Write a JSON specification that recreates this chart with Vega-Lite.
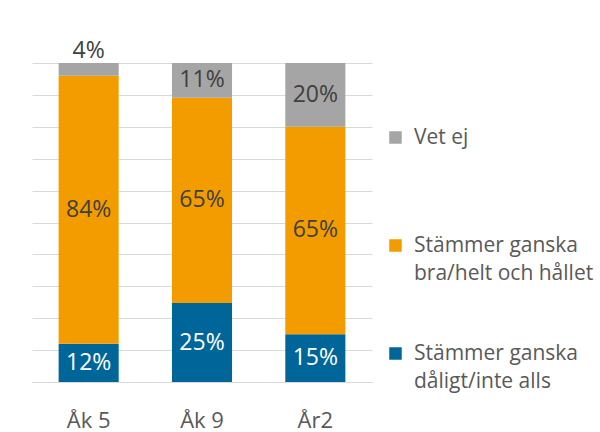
{
  "$schema": "https://vega.github.io/schema/vega-lite/v6.json",
  "width": 340,
  "height": 319,
  "autosize": "none",
  "padding": {"left": 32, "top": 63, "right": 228, "bottom": 50},
  "background": "white",
  "data": {
    "values": [
      {"grupp": "Åk 5", "svar": "Stämmer ganska dåligt/inte alls", "andel": 12, "ordning": 1},
      {"grupp": "Åk 5", "svar": "Stämmer ganska bra/helt och hållet", "andel": 84, "ordning": 2},
      {"grupp": "Åk 5", "svar": "Vet ej", "andel": 4, "ordning": 3},
      {"grupp": "Åk 9", "svar": "Stämmer ganska dåligt/inte alls", "andel": 25, "ordning": 1},
      {"grupp": "Åk 9", "svar": "Stämmer ganska bra/helt och hållet", "andel": 65, "ordning": 2},
      {"grupp": "Åk 9", "svar": "Vet ej", "andel": 11, "ordning": 3},
      {"grupp": "År2", "svar": "Stämmer ganska dåligt/inte alls", "andel": 15, "ordning": 1},
      {"grupp": "År2", "svar": "Stämmer ganska bra/helt och hållet", "andel": 65, "ordning": 2},
      {"grupp": "År2", "svar": "Vet ej", "andel": 20, "ordning": 3}
    ]
  },
  "transform": [
    {"stack": "andel", "groupby": ["grupp"], "sort": [{"field": "ordning"}], "as": ["y0", "y1"], "offset": "normalize"},
    {"calculate": "(datum.y0 + datum.y1) / 2", "as": "ymid"},
    {"calculate": "datum.andel + '%'", "as": "etikett"}
  ],
  "encoding": {
    "x": {
      "field": "grupp",
      "type": "nominal",
      "sort": ["Åk 5", "Åk 9", "År2"],
      "scale": {"paddingInner": 0.47, "paddingOuter": 0.235},
      "axis": {
        "title": null,
        "labelAngle": 0,
        "ticks": false,
        "domain": true,
        "domainColor": "#d9d9d9",
        "labelFont": "Open Sans",
        "labelFontSize": 22,
        "labelColor": "#595959",
        "labelPadding": 28
      }
    }
  },
  "layer": [
    {
      "mark": {"type": "bar"},
      "encoding": {
        "y": {
          "field": "y0",
          "type": "quantitative",
          "scale": {"domain": [0, 1]},
          "axis": {
            "title": null,
            "labels": false,
            "ticks": false,
            "domain": false,
            "grid": true,
            "gridColor": "#d9d9d9",
            "values": [0, 0.1, 0.2, 0.3, 0.4, 0.5, 0.6, 0.7, 0.8, 0.9, 1]
          }
        },
        "y2": {"field": "y1"},
        "color": {
          "field": "svar",
          "type": "nominal",
          "scale": {
            "domain": ["Vet ej", "Stämmer ganska bra/helt och hållet", "Stämmer ganska dåligt/inte alls"],
            "range": ["#a5a5a5", "#f39c00", "#006699"]
          },
          "legend": {
            "title": null,
            "orient": "none",
            "legendX": 353,
            "legendY": 64,
            "padding": 0,
            "symbolType": "square",
            "symbolSize": 156,
            "symbolStrokeWidth": 0,
            "labelFont": "Open Sans",
            "labelFontSize": 21,
            "labelColor": "#595959",
            "labelOffset": 8,
            "labelLimit": 300,
            "rowPadding": 58,
            "labelExpr": "datum.label == 'Vet ej' ? ['Vet ej', ' '] : split(replace(datum.label, 'ganska ', 'ganska|'), '|')"
          }
        }
      }
    },
    {
      "transform": [{"filter": "datum.andel >= 5"}],
      "mark": {"type": "text", "font": "Open Sans", "fontSize": 23, "baseline": "middle"},
      "encoding": {
        "y": {
          "field": "ymid",
          "type": "quantitative",
          "axis": {
            "title": null,
            "labels": false,
            "ticks": false,
            "domain": false,
            "grid": true,
            "gridColor": "#d9d9d9",
            "values": [0, 0.1, 0.2, 0.3, 0.4, 0.5, 0.6, 0.7, 0.8, 0.9, 1]
          }
        },
        "text": {"field": "etikett"},
        "color": {
          "condition": {"test": "datum.ordning == 1", "value": "#ffffff"},
          "value": "#404040"
        }
      }
    },
    {
      "transform": [{"filter": "datum.andel < 5"}],
      "mark": {"type": "text", "font": "Open Sans", "fontSize": 23, "baseline": "middle", "dy": -12, "color": "#404040"},
      "encoding": {
        "y": {
          "field": "y1",
          "type": "quantitative",
          "axis": {
            "title": null,
            "labels": false,
            "ticks": false,
            "domain": false,
            "grid": true,
            "gridColor": "#d9d9d9",
            "values": [0, 0.1, 0.2, 0.3, 0.4, 0.5, 0.6, 0.7, 0.8, 0.9, 1]
          }
        },
        "text": {"field": "etikett"}
      }
    }
  ],
  "config": {
    "view": {"stroke": null},
    "style": {"guide-label": {"lineHeight": 28}}
  }
}
